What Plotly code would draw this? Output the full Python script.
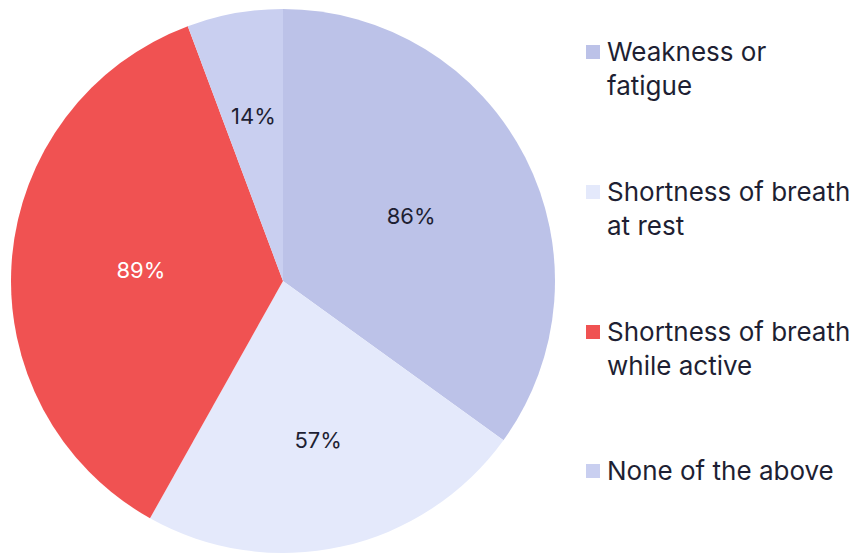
import math
import plotly.graph_objects as go

categories = ["Weakness or<br>fatigue", "Shortness of breath<br>at rest",
              "Shortness of breath<br>while active", "None of the above"]
values = [86, 57, 89, 14]
colors = ["#BCC2E8", "#E4E9FB", "#F05252", "#C9CFF0"]
text_colors = ["#1E1F33", "#1E1F33", "#FFFFFF", "#1E1F33"]

W, H = 853, 553
FONT = "Inter, Noto Sans, sans-serif"

# pie geometry in pixels (reference)
px0, px1, ptop = 10, 556, 9
fig = go.Figure()
fig.add_trace(go.Pie(
    labels=categories,
    values=values,
    sort=False,
    direction="clockwise",
    rotation=0,
    marker=dict(colors=colors, line=dict(width=0)),
    texttemplate=["%{value}%", "%{value}%", "%{value}%", " "],
    textposition="inside",
    insidetextorientation="horizontal",
    textfont=dict(family=FONT, size=22, color=text_colors),
    domain=dict(x=[px0 / W, px1 / W], y=[0, 1 - ptop / H]),
    showlegend=False,
    hoverinfo="label+value",
))

# label for the small slice placed further inside (mid-angle from data)
total = sum(values)
R = (H - ptop) / 2
cx, cy = (px0 + px1) / 2, ptop + R
start = sum(values[:3])
mid = (start + values[3] / 2) / total * 2 * math.pi
r = 0.615 * R
tx, ty = cx + r * math.sin(mid), cy - r * math.cos(mid)
fig.add_annotation(xref="paper", yref="paper", x=tx / W, y=1 - ty / H,
                   xanchor="center", yanchor="middle",
                   text=f"{values[3]}%", showarrow=False,
                   font=dict(family=FONT, size=22, color=text_colors[3]))

# manual legend (spacing matches reference)
legend_tops = [52, 192, 332, 471]
for lab, col, yc in zip(categories, colors, legend_tops):
    fig.add_shape(type="rect", xref="paper", yref="paper",
                  x0=586 / W, x1=600 / W,
                  y0=1 - (yc + 7) / H, y1=1 - (yc - 7) / H,
                  fillcolor=col, line=dict(width=0))
    fig.add_annotation(xref="paper", yref="paper", x=605 / W, y=1 - (yc - 18) / H,
                       xanchor="left", yanchor="top", align="left",
                       text=lab, showarrow=False,
                       font=dict(family=FONT, size=26, color="#1E1F33"))

fig.update_layout(
    width=W, height=H,
    margin=dict(l=0, r=0, t=0, b=0),
    paper_bgcolor="white", plot_bgcolor="white",
)
fig.write_html(
    "out.html",
    config={"displayModeBar": False},
    post_script="document.body.style.margin='0';document.body.style.overflow='hidden';",
)
